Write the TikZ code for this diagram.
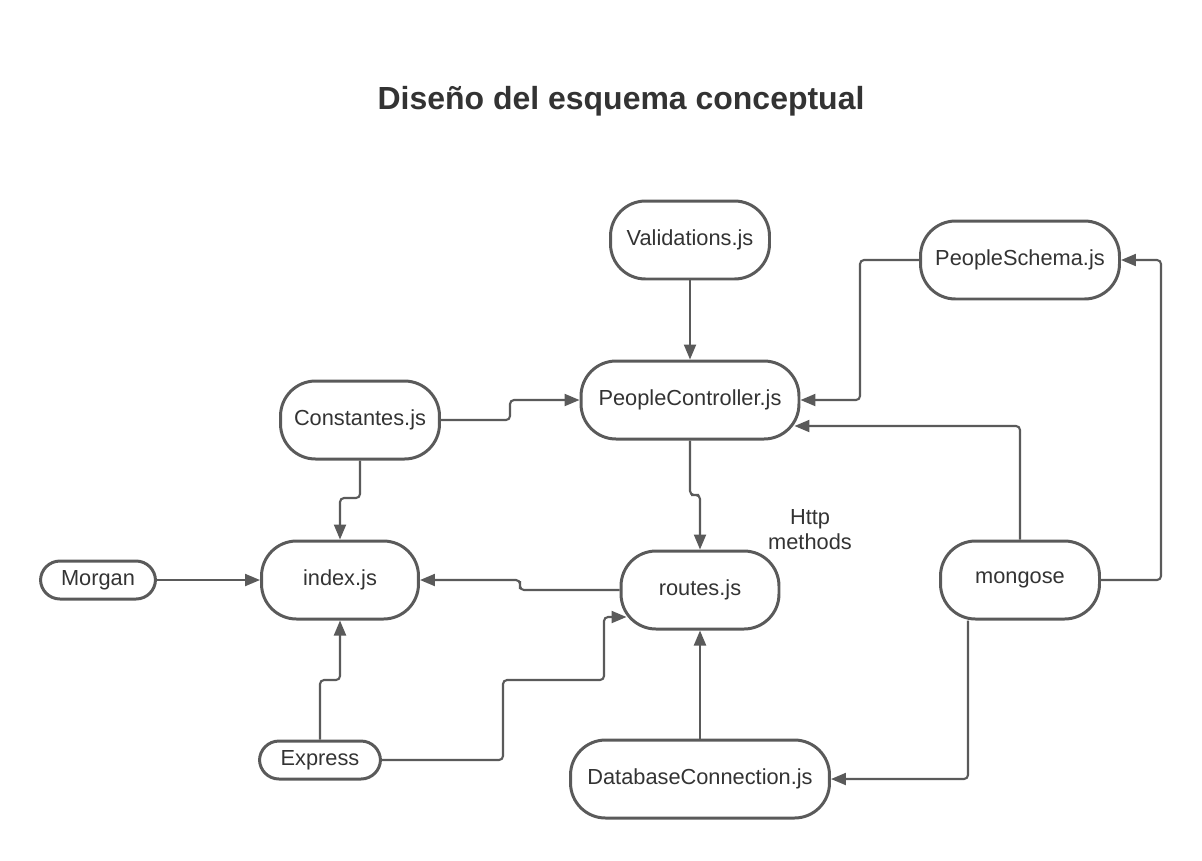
\documentclass[tikz,border=0pt]{standalone}
\usepackage{fontspec}
\setmainfont{Liberation Sans}
\usetikzlibrary{arrows.meta}
\definecolor{linegray}{HTML}{5A5A5A}
\definecolor{textgray}{HTML}{333333}

\begin{document}
\begin{tikzpicture}[x=0.02cm,y=-0.02cm,>={Triangle[length=0.3cm,width=0.24cm]},
                big node/.style={rectangle,draw=linegray,line width=1.7pt,rounded corners=0.7cm,
                  minimum height=1.56cm,inner sep=0pt,text=textgray,font=\fontsize{12.4}{14.2}\selectfont},
                small node/.style={big node,rounded corners=0.39cm,minimum height=0.76cm},
                link/.style={->,draw=linegray,line width=1.2pt,rounded corners=0.08cm}]
                \useasboundingbox (0,0) rectangle (1202,860);
                \node[text=textgray,font=\fontsize{18.2}{22}\selectfont\bfseries] (title) at (621,101) {Diseño del esquema conceptual};

                \node[big node,minimum width=3.18cm] (val) at (690,240) {Validations.js};
                \node[big node,minimum width=3.98cm] (schema) at (1020,260) {PeopleSchema.js};
                \node[big node,minimum width=4.36cm] (pc) at (690,400) {PeopleController.js};
                \node[big node,minimum width=3.18cm] (const) at (360,420) {Constantes.js};
                \node[big node,minimum width=3.14cm] (index) at (340,580) {index.js};
                \node[small node,minimum width=2.30cm] (morgan) at (98,580) {Morgan};
                \node[big node,minimum width=3.16cm] (routes) at (700,590) {routes.js};
                \node[big node,minimum width=3.18cm] (mongose) at (1020,580) {mongose};
                \node[small node,minimum width=2.42cm] (express) at (320,760) {Express};
                \node[big node,minimum width=5.18cm] (db) at (700,779) {DatabaseConnection.js};
                \node[align=center,text=textgray,font=\fontsize{12.4}{14.2}\selectfont] (http) at (810,530) {Http\\methods};

                % controller and its inputs
                \draw[link] (val.south) -- (pc.north);
                \draw[link] (schema.west) -| (860,400) -- (pc.east);
                \draw[link] (mongose.north) |- ([xshift=-0.12cm,yshift=-0.52cm]pc.east);
                \draw[link] (mongose.east) -| (1161,260) -- (schema.east);
                \draw[link] ([xshift=-1.04cm]mongose.south) |- (db.east);
                \draw[link] (const.east) -| (510,410) |- (pc.west);
                \draw[link] (const.south) |- (350,498) -| (index.north);
                \draw[link] (pc.south) |- (695,495) -| (routes.north);

                % index and routes
                \draw[link] (morgan.east) -- (index.west);
                \draw[link] (routes.west) -| (520,585) |- (index.east);
                \draw[link] (express.north) |- (330,680) -| (index.south);
                \draw[link] (express.east) -| (503,680) -| (604,617) -- ([xshift=0.14cm,yshift=-0.54cm]routes.west);
                \draw[link] (db.north) -- (routes.south);
\end{tikzpicture}
\end{document}
